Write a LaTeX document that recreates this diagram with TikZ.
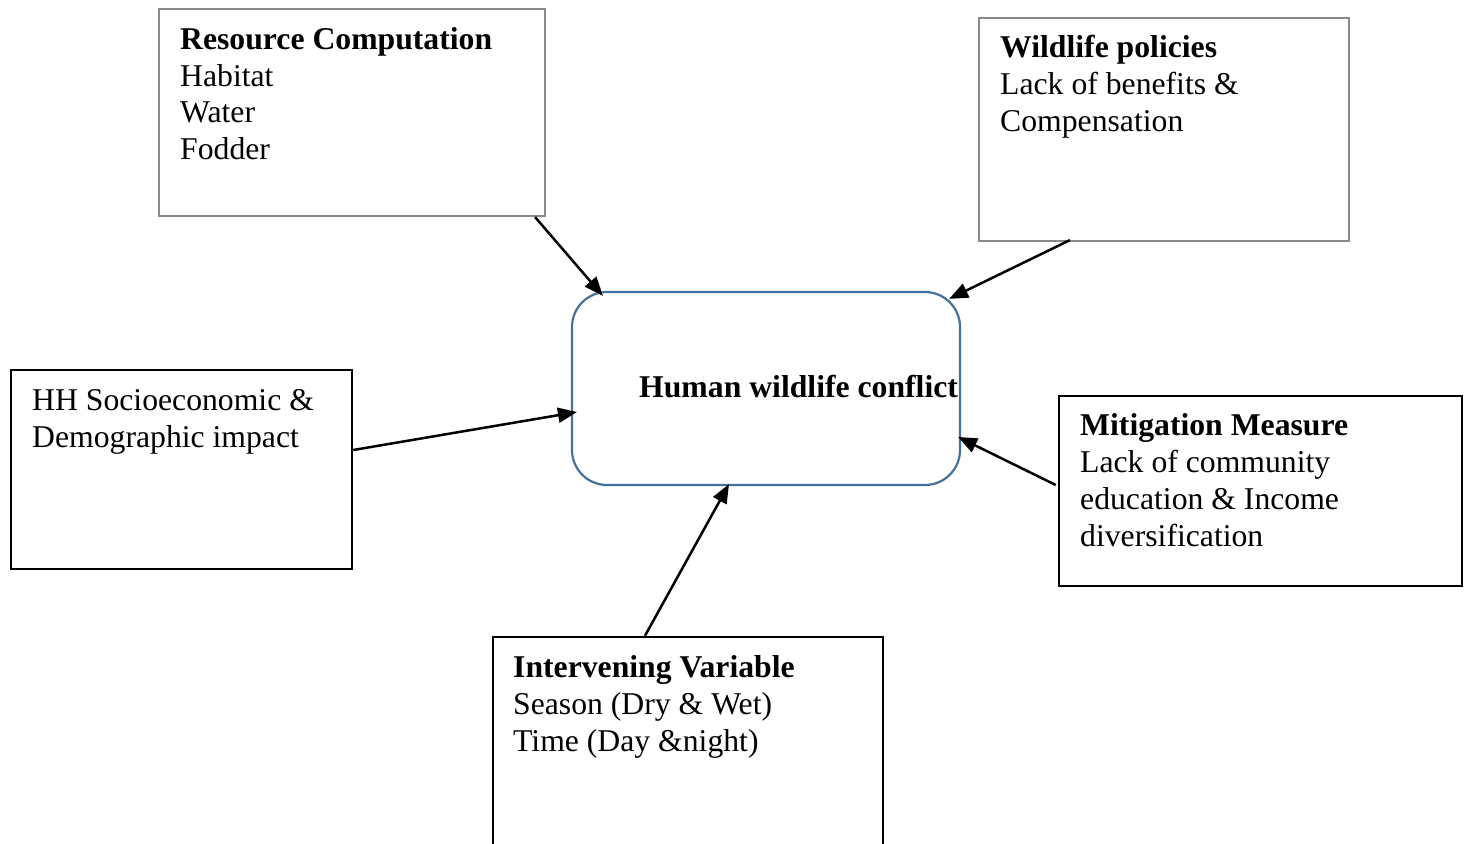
\documentclass[tikz,border=0pt]{standalone}
\usepackage{fontspec}
\setmainfont{Liberation Serif}
\usetikzlibrary{arrows.meta,calc}
\definecolor{boxgray}{RGB}{137,137,137}
\definecolor{hwcblue}{RGB}{65,113,156}
\begin{document}
\begin{tikzpicture}[x=1pt,y=-1pt,
  graybox/.style={draw=boxgray,line width=2.2pt,rectangle,inner sep=0pt},
  blackbox/.style={draw=black,line width=2.5pt,rectangle,inner sep=0pt},
  hwcbox/.style={draw=hwcblue,line width=2.2pt,rectangle,rounded corners=35pt,inner sep=0pt},
  txt/.style={font=\fontsize{31.7}{36.7}\selectfont,align=left,inner sep=0pt,anchor=base west},
  conn/.style={line width=2.5pt,-{Triangle[length=19pt,width=15pt]}}]
\useasboundingbox (0,0) rectangle (1471,843);
\clip (0,0) rectangle (1471,843);
\node[graybox,minimum width=386pt,minimum height=207pt] (rc) at (352,112.5) {};
\node[graybox,minimum width=370pt,minimum height=223pt] (wp) at (1164,129.5) {};
\node[hwcbox,minimum width=388pt,minimum height=193pt] (hwc) at (766,388.5) {};
\node[blackbox,minimum width=341pt,minimum height=199pt] (hh) at (181.5,469.5) {};
\node[blackbox,minimum width=403pt,minimum height=190pt] (mm) at (1260.5,491) {};
\node[blackbox,minimum width=390pt,minimum height=263pt] (iv) at (688,768.5) {};
\node[txt] (rct) at (180,159.5) {\textbf{Resource Computation}\\Habitat\\Water\\Fodder};
\node[txt] (wpt) at (1000,131) {\textbf{Wildlife policies}\\Lack of benefits \&\\Compensation};
\node[txt] (hwct) at (639,397) {\textbf{Human wildlife conflict}};
\node[txt] (hht) at (32,447) {HH Socioeconomic \&\\Demographic impact};
\node[txt] (mmt) at (1080,546) {\textbf{Mitigation Measure}\\Lack of community\\education \& Income\\diversification};
\node[txt] (ivt) at (513,751) {\textbf{Intervening Variable}\\Season (Dry \& Wet)\\Time (Day \&night)};
\draw[conn] ($(rc.south east)+(-11,0)$) -- ($(hwc.north west)+(32,5)$);
\draw[conn] ($(wp.south west)+(92,-2)$) -- ($(hwc.north east)+(-12,8)$);
\draw[conn] ($(hh.east)+(0,-19.5)$) -- ($(hwc.west)+(6,23.5)$);
\draw[conn] ($(mm.west)+(-2,-6)$) -- ($(hwc.east)+(-3,48.5)$);
\draw[conn] ($(iv.north)+(-43,0)$) -- ($(hwc.south)+(-37,-2)$);
\end{tikzpicture}
\end{document}
